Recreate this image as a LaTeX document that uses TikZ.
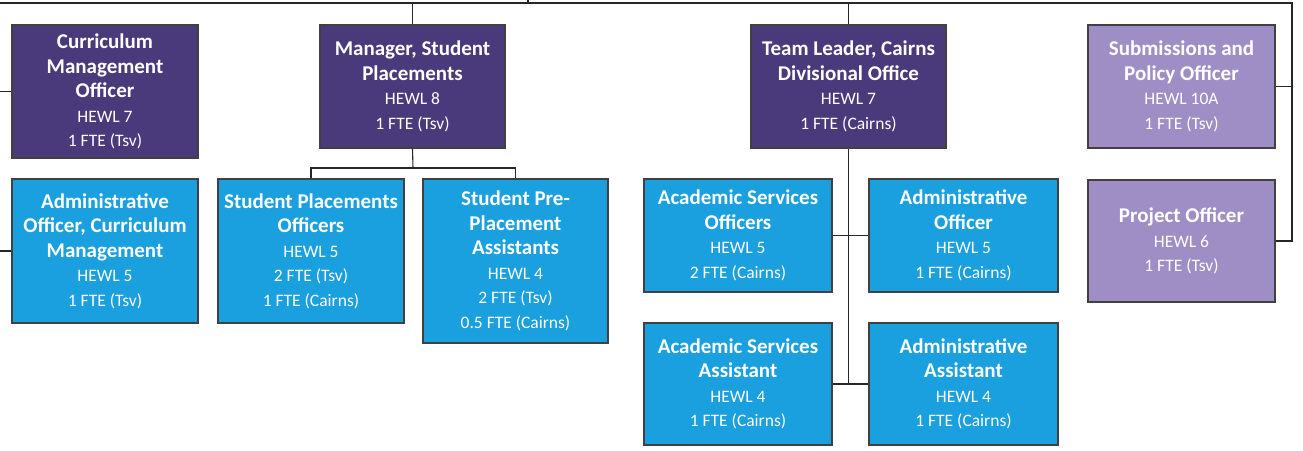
\documentclass[tikz,border=0pt]{standalone}
\usepackage{fontspec}
\setmainfont{Carlito}
\definecolor{darkpurple}{HTML}{4B3A7B}
\definecolor{lightpurple}{HTML}{9F8EC6}
\definecolor{boxblue}{HTML}{1A9FDF}
\newcommand\bt[1]{{\fontsize{21}{24.5}\selectfont\bfseries #1}}
\tikzset{
  box/.style={draw=black!75, line width=1.1pt, text=white, align=center,
    inner sep=0pt, font=\fontsize{17.5}{24.5}\selectfont},
  purplebox/.style={box, fill=darkpurple},
  lilacbox/.style={box, fill=lightpurple},
  bluebox/.style={box, fill=boxblue},
  conn/.style={draw=black!85, line width=1.1pt}
}
\begin{document}
\begin{tikzpicture}[x=1pt,y=-1pt]
\useasboundingbox[fill=white] (0,0) rectangle (1303,450);
% nodes
\node[purplebox, minimum width=186pt, minimum height=133pt] (cmo) at (105,91.5)
  {\bt{Curriculum}\\\bt{Management}\\\bt{Officer}\\HEWL 7\\1 FTE (Tsv)};
\node[bluebox, minimum width=186pt, minimum height=144pt] (aocm) at (105,251)
  {\bt{Administrative}\\\bt{Officer, Curriculum}\\\bt{Management}\\HEWL 5\\1 FTE (Tsv)};
\node[purplebox, minimum width=185pt, minimum height=123pt] (msp) at (412.5,86.5)
  {\bt{Manager, Student}\\\bt{Placements}\\HEWL 8\\1 FTE (Tsv)};
\node[bluebox, minimum width=186pt, minimum height=144pt] (spo) at (311,251)
  {\bt{Student Placements}\\\bt{Officers}\\HEWL 5\\2 FTE (Tsv)\\1 FTE (Cairns)};
\node[bluebox, minimum width=185pt, minimum height=164pt] (sppa) at (515.5,261)
  {\bt{Student Pre-}\\\bt{Placement}\\\bt{Assistants}\\HEWL 4\\2 FTE (Tsv)\\0.5 FTE (Cairns)};
\node[purplebox, minimum width=195pt, minimum height=123pt] (tl) at (848.5,86.5)
  {\bt{Team Leader, Cairns}\\\bt{Divisional Office}\\HEWL 7\\1 FTE (Cairns)};
\node[bluebox, minimum width=188pt, minimum height=113pt] (aso) at (738,235.5)
  {\bt{Academic Services}\\\bt{Officers}\\HEWL 5\\2 FTE (Cairns)};
\node[bluebox, minimum width=189pt, minimum height=113pt] (ao) at (963.5,235.5)
  {\bt{Administrative}\\\bt{Officer}\\HEWL 5\\1 FTE (Cairns)};
\node[bluebox, minimum width=188pt, minimum height=122pt] (asa) at (738,384)
  {\bt{Academic Services}\\\bt{Assistant}\\HEWL 4\\1 FTE (Cairns)};
\node[bluebox, minimum width=189pt, minimum height=122pt] (aa) at (963.5,384)
  {\bt{Administrative}\\\bt{Assistant}\\HEWL 4\\1 FTE (Cairns)};
\node[lilacbox, minimum width=187pt, minimum height=123pt] (spol) at (1181.5,86.5)
  {\bt{Submissions and}\\\bt{Policy Officer}\\HEWL 10A\\1 FTE (Tsv)};
\node[lilacbox, minimum width=187pt, minimum height=122pt] (po) at (1181.5,241)
  {\bt{Project Officer}\\HEWL 6\\1 FTE (Tsv)};
% coordinates
\coordinate (parent) at (528,0);
\coordinate (busL) at (0,3);
\coordinate (busR) at (1292,3);
\coordinate (leftA) at (0,91.5);
\coordinate (leftB) at (0,251);
\coordinate (mspmid) at (413,168);
% connectors
\draw[conn] (parent) -- (parent |- busL);
\draw[conn] (busL) -- (busR) |- (po.east);
\draw[conn] (spol.east) -- (spol.east -| busR);
\draw[conn] (msp.north) -- (msp.north |- busL);
\draw[conn] (tl.north) -- (tl.north |- busL);
\draw[conn] (leftA) -- (cmo.west);
\draw[conn] (leftB) -- (aocm.west);
\draw[conn] (msp.south) -- (mspmid);
\draw[conn] (spo.north) |- (mspmid) -| (sppa.north);
\draw[conn] (tl.south) -- (tl.south |- asa.east);
\draw[conn] (aso.east) -- (ao.west);
\draw[conn] (asa.east) -- (aa.west);
\end{tikzpicture}
\end{document}
